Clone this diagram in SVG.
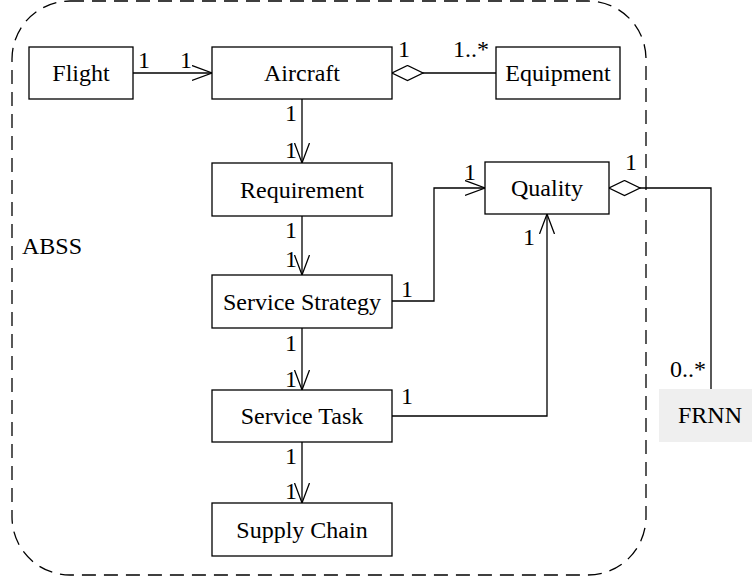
<svg xmlns="http://www.w3.org/2000/svg" width="752" height="583" viewBox="0 0 752 583">
<style>
.box{fill:#fff;stroke:#000;stroke-width:1.3}
text{font-family:"Liberation Serif","Times New Roman",serif;font-size:24px;fill:#000}
.c{text-anchor:middle}
.ln{fill:none;stroke:#000;stroke-width:1.3}
</style>
<defs>
<marker id="arr" markerWidth="24" markerHeight="18" refX="20" refY="8" orient="auto" markerUnits="userSpaceOnUse">
<path d="M0,0.5 L20,8 L0,15.5" fill="none" stroke="#000" stroke-width="1.3"/>
</marker>
<marker id="dia" markerWidth="34" markerHeight="18" refX="0" refY="8" orient="auto" markerUnits="userSpaceOnUse">
<path d="M0,8 L15.5,0.5 L31,8 L15.5,15.5 Z" fill="#fff" stroke="#000" stroke-width="1.3"/>
</marker>
</defs>
<g id="ABSS">
<rect x="12" y="1" width="634" height="574" rx="58" ry="58" fill="none" stroke="#000" stroke-width="1.3" stroke-dasharray="14 8"/>
<text x="22" y="254">ABSS</text>
</g>
<g id="connectors">
<line class="ln" x1="133" y1="73" x2="212" y2="73" marker-end="url(#arr)"/>
<line class="ln" x1="392" y1="73" x2="496" y2="73" marker-start="url(#dia)"/>
<line class="ln" x1="302" y1="99" x2="302" y2="163" marker-end="url(#arr)"/>
<line class="ln" x1="302" y1="216" x2="302" y2="275" marker-end="url(#arr)"/>
<line class="ln" x1="302" y1="328" x2="302" y2="390" marker-end="url(#arr)"/>
<line class="ln" x1="302" y1="442" x2="302" y2="503" marker-end="url(#arr)"/>
<polyline class="ln" points="392,301 434,301 434,188 485,188" marker-end="url(#arr)"/>
<polyline class="ln" points="392,416 547,416 547,214" marker-end="url(#arr)"/>
<polyline class="ln" points="609,188 711,188 711,389" marker-start="url(#dia)"/>
<text x="138" y="68">1</text>
<text x="180" y="68">1</text>
<text x="398" y="57">1</text>
<text x="453" y="57">1..*</text>
<text x="285" y="121">1</text>
<text x="285" y="158">1</text>
<text x="285" y="238">1</text>
<text x="285" y="267">1</text>
<text x="285" y="351">1</text>
<text x="285" y="387">1</text>
<text x="285" y="464">1</text>
<text x="285" y="499">1</text>
<text x="401" y="297">1</text>
<text x="464" y="180">1</text>
<text x="401" y="404">1</text>
<text x="523" y="245">1</text>
<text x="625" y="170">1</text>
<text x="670" y="377">0..*</text>
</g>
<g id="Flight"><rect class="box" x="29" y="47" width="104" height="52"/><text class="c" x="81" y="81">Flight</text></g>
<g id="Aircraft"><rect class="box" x="212" y="47" width="180" height="52"/><text class="c" x="302" y="81">Aircraft</text></g>
<g id="Equipment"><rect class="box" x="496" y="47" width="124" height="52"/><text class="c" x="558" y="81">Equipment</text></g>
<g id="Requirement"><rect class="box" x="212" y="163" width="180" height="53"/><text class="c" x="302" y="198">Requirement</text></g>
<g id="Quality"><rect class="box" x="485" y="162" width="124" height="52"/><text class="c" x="547" y="196">Quality</text></g>
<g id="ServiceStrategy"><rect class="box" x="212" y="275" width="180" height="53"/><text class="c" x="302" y="310">Service Strategy</text></g>
<g id="ServiceTask"><rect class="box" x="212" y="390" width="180" height="52"/><text class="c" x="302" y="424">Service Task</text></g>
<g id="SupplyChain"><rect class="box" x="212" y="503" width="180" height="53"/><text class="c" x="302" y="538">Supply Chain</text></g>
<g id="FRNN"><rect x="659" y="389" width="95" height="53" fill="#efefef"/><text x="678" y="423">FRNN</text></g>
</svg>
